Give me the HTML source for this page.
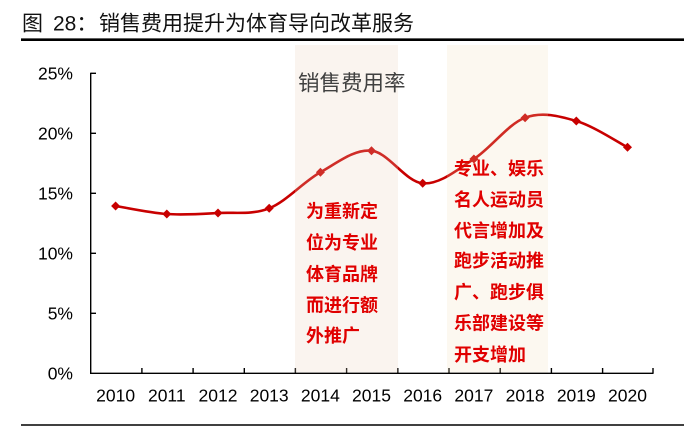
<!DOCTYPE html>
<html><head><meta charset="utf-8"><style>
html,body{margin:0;padding:0;background:#fff;}
svg{display:block;}
</style></head><body>
<svg width="684" height="426" viewBox="0 0 684 426" xmlns="http://www.w3.org/2000/svg">
<rect width="684" height="426" fill="#fff"/>
<g font-family="Liberation Sans, Noto Sans CJK SC, sans-serif" font-size="21" fill="#111">
<text x="22" y="30.5">图</text>
<text x="53" y="30.5">28：</text>
<text x="99" y="30.5">销售费用提升为体育导向改革服务</text>
</g>
<line x1="21" y1="39.7" x2="684" y2="39.7" stroke="#000" stroke-width="2.6"/>
<line x1="21" y1="425" x2="684" y2="425" stroke="#000" stroke-width="1.5"/>

<!-- axes -->
<g stroke="#000" stroke-width="1.4" fill="none">
<line x1="90.7" y1="72.7" x2="90.7" y2="373.3"/>
<line x1="90" y1="373.3" x2="653.5" y2="373.3"/>
<line x1="90.7" y1="73.3" x2="96" y2="73.3"/>
<line x1="90.7" y1="133.3" x2="96" y2="133.3"/>
<line x1="90.7" y1="193.3" x2="96" y2="193.3"/>
<line x1="90.7" y1="253.3" x2="96" y2="253.3"/>
<line x1="90.7" y1="313.3" x2="96" y2="313.3"/>
<line x1="141.9" y1="373.3" x2="141.9" y2="368"/>
<line x1="193.1" y1="373.3" x2="193.1" y2="368"/>
<line x1="244.3" y1="373.3" x2="244.3" y2="368"/>
<line x1="295.4" y1="373.3" x2="295.4" y2="368"/>
<line x1="346.6" y1="373.3" x2="346.6" y2="368"/>
<line x1="397.8" y1="373.3" x2="397.8" y2="368"/>
<line x1="449" y1="373.3" x2="449" y2="368"/>
<line x1="500.2" y1="373.3" x2="500.2" y2="368"/>
<line x1="551.4" y1="373.3" x2="551.4" y2="368"/>
<line x1="602.6" y1="373.3" x2="602.6" y2="368"/>
<line x1="653" y1="373.3" x2="653" y2="368"/>
</g>

<g font-family="Liberation Sans, sans-serif" font-size="17.5" fill="#000" text-anchor="end">
<text x="73" y="79.5">25%</text>
<text x="73" y="139.5">20%</text>
<text x="73" y="199.5">15%</text>
<text x="73" y="259.5">10%</text>
<text x="73" y="319.5">5%</text>
<text x="73" y="379.5">0%</text>
</g>
<g font-family="Liberation Sans, sans-serif" font-size="17.5" fill="#000" text-anchor="middle">
<text x="115.6" y="401.5">2010</text>
<text x="166.8" y="401.5">2011</text>
<text x="218" y="401.5">2012</text>
<text x="269.2" y="401.5">2013</text>
<text x="320.4" y="401.5">2014</text>
<text x="371.5" y="401.5">2015</text>
<text x="422.7" y="401.5">2016</text>
<text x="473.9" y="401.5">2017</text>
<text x="525.1" y="401.5">2018</text>
<text x="576.3" y="401.5">2019</text>
<text x="627.5" y="401.5">2020</text>
</g>

<!-- series -->
<path d="M115.6,206 C124.13,207.33 149.74,212.83 166.8,214 C183.86,215.17 200.94,213.95 218,213 C235.06,212.05 252.14,215.08 269.2,208.3 C286.26,201.52 303.34,181.9 320.4,172.3 C337.46,162.7 354.44,148.87 371.5,150.7 C388.56,152.53 405.64,181.92 422.7,183.3 C439.76,184.68 456.84,169.93 473.9,159 C490.96,148.07 508.04,124.03 525.1,117.7 C542.16,111.37 559.24,116.07 576.3,121 C593.36,125.93 618.97,142.92 627.5,147.3" fill="none" stroke="#c80000" stroke-width="2.6"/>
<g fill="#c80000">
<path d="M115.6,201.5 L120.1,206 L115.6,210.5 L111.1,206Z"/>
<path d="M166.8,209.5 L171.3,214 L166.8,218.5 L162.3,214Z"/>
<path d="M218,208.5 L222.5,213 L218,217.5 L213.5,213Z"/>
<path d="M269.2,203.8 L273.7,208.3 L269.2,212.8 L264.7,208.3Z"/>
<path d="M320.4,167.8 L324.9,172.3 L320.4,176.8 L315.9,172.3Z"/>
<path d="M371.5,146.2 L376,150.7 L371.5,155.2 L367,150.7Z"/>
<path d="M422.7,178.8 L427.2,183.3 L422.7,187.8 L418.2,183.3Z"/>
<path d="M473.9,154.5 L478.4,159 L473.9,163.5 L469.4,159Z"/>
<path d="M525.1,113.2 L529.6,117.7 L525.1,122.2 L520.6,117.7Z"/>
<path d="M576.3,116.5 L580.8,121 L576.3,125.5 L571.8,121Z"/>
<path d="M627.5,142.8 L632,147.3 L627.5,151.8 L623,147.3Z"/>
</g>

<!-- bands -->
<rect x="295" y="45" width="103" height="327.5" fill="rgb(230,205,180)" fill-opacity="0.22"/>
<rect x="447" y="45" width="101" height="327.5" fill="rgb(242,220,178)" fill-opacity="0.2"/>

<text x="298" y="90.5" font-family="Liberation Sans, Noto Sans CJK SC, sans-serif" font-size="21.5" fill="#404040">销售费用率</text>

<g font-family="Liberation Sans, Noto Sans CJK SC, sans-serif" font-size="18" font-weight="bold" fill="#e00000">
<text x="306" y="217.5">为重新定</text>
<text x="306" y="249">位为专业</text>
<text x="306" y="280.5">体育品牌</text>
<text x="306" y="311.5">而进行额</text>
<text x="306" y="342">外推广</text>
<text x="454" y="174.8">专业、娱乐</text>
<text x="454" y="205.8">名人运动员</text>
<text x="454" y="237">代言增加及</text>
<text x="454" y="267">跑步活动推</text>
<text x="454" y="298.5">广、跑步俱</text>
<text x="454" y="329.5">乐部建设等</text>
<text x="454" y="360.8">开支增加</text>
</g>
</svg>
</body></html>
